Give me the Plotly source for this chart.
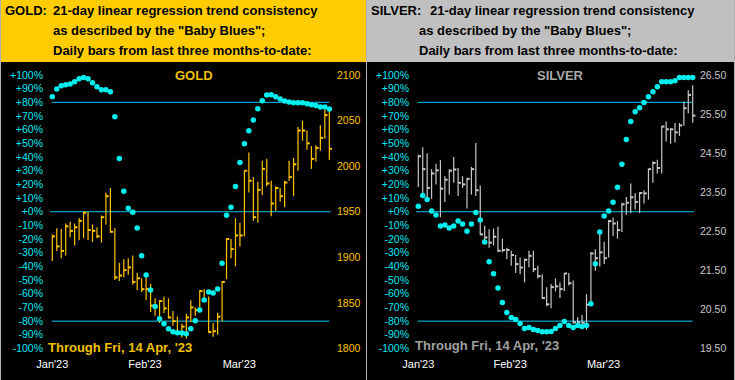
import plotly.graph_objects as go

W, H = 735, 380

# ---------------- data ----------------
bar_index = list(range(1, 64))

gold_high = [1925, 1932, 1931, 1937, 1939, 1937, 1943, 1950, 1950, 1936, 1933, 1946, 1971, 1976, 1932,
             1894, 1898, 1899, 1902, 1883, 1877, 1882, 1871, 1855, 1853, 1857, 1855, 1841, 1835, 1827,
             1838, 1853, 1845, 1864, 1865, 1857, 1828, 1839, 1874, 1921, 1920, 1943, 1938, 1995, 2015,
             1988, 1983, 2006, 2008, 1984, 1978, 1976, 1984, 2006, 2009, 2043, 2050, 2039, 2022, 2023,
             2045, 2062, 2064]
gold_low = [1896, 1907, 1899, 1902, 1922, 1913, 1919, 1921, 1919, 1917, 1921, 1916, 1936, 1927, 1875,
            1874, 1878, 1881, 1870, 1864, 1862, 1853, 1840, 1836, 1828, 1839, 1833, 1825, 1816, 1812,
            1811, 1829, 1836, 1842, 1851, 1817, 1813, 1815, 1830, 1876, 1899, 1890, 1912, 1923, 1971,
            1940, 1938, 1968, 1978, 1945, 1951, 1961, 1955, 1984, 1967, 1995, 2028, 2018, 1997, 2005,
            2017, 2030, 2007]
gold_close = [1923, 1912, 1907, 1934, 1929, 1933, 1940, 1949, 1930, 1929, 1923, 1944, 1967, 1928, 1878,
              1880, 1886, 1889, 1873, 1877, 1865, 1865, 1847, 1846, 1852, 1844, 1834, 1830, 1818, 1824,
              1834, 1845, 1842, 1863, 1853, 1818, 1819, 1835, 1873, 1920, 1909, 1924, 1924, 1995, 1984,
              1944, 1974, 1997, 1981, 1959, 1976, 1967, 1982, 1988, 2002, 2039, 2039, 2025, 2008, 2020,
              2031, 2056, 2019]
gold_blues = [84.1, 89.7, 92.1, 92.8, 93.5, 95.0, 97.2, 98.2, 97.2, 94.3, 91.4, 89.2, 89.2, 87.7, 69.4,
              39.0, 15.0, 2.6, -0.3, -11.9, -32.2, -46.3, -57.2, -69.3, -78.3, -81.9, -85.6, -87.8, -88.5,
              -88.7, -89.2, -85.6, -79.8, -71.8, -64.5, -58.7, -59.4, -56.5, -37.6, -2.5, 3.3, 18.5, 36.0,
              49.7, 59.3, 67.1, 75.3, 81.1, 85.4, 85.5, 84.1, 82.4, 80.9, 80.2, 79.7, 79.7, 79.7, 79.0,
              78.3, 77.6, 76.6, 76.6, 75.1]

silver_high = [24.46, 24.65, 24.50, 24.09, 24.23, 24.32, 23.91, 24.09, 24.40, 24.12, 23.91, 23.87, 24.15,
               24.76, 23.67, 22.64, 22.55, 22.57, 22.62, 22.31, 22.08, 22.00, 21.89, 21.83, 21.80, 22.00,
               22.00, 21.62, 21.40, 21.07, 21.15, 21.29, 21.19, 21.43, 21.43, 21.24, 20.30, 20.36, 20.89,
               21.97, 22.04, 22.47, 22.23, 22.79, 22.85, 22.76, 23.23, 23.38, 23.72, 23.47, 23.50, 23.55,
               24.10, 24.29, 24.33, 25.20, 25.31, 25.14, 25.27, 25.27, 25.82, 26.11, 26.24]
silver_low = [23.63, 23.42, 23.29, 23.33, 23.70, 22.86, 23.25, 23.44, 23.74, 23.40, 23.61, 23.08, 23.44,
              23.40, 22.40, 22.21, 22.08, 22.14, 21.97, 21.96, 21.79, 21.62, 21.43, 21.40, 21.19, 21.57,
              21.45, 21.29, 20.77, 20.58, 20.53, 20.96, 20.79, 20.97, 21.11, 20.13, 20.05, 20.00, 19.98,
              20.68, 21.49, 21.60, 21.66, 21.83, 22.38, 22.31, 22.48, 22.92, 22.97, 23.06, 22.97, 23.21,
              23.31, 23.74, 23.98, 23.98, 24.80, 24.74, 24.77, 24.94, 25.20, 25.52, 25.28]
silver_close = [24.42, 24.09, 23.61, 23.98, 24.06, 23.59, 23.82, 24.05, 24.08, 23.74, 23.70, 23.84, 24.09,
                23.55, 22.42, 22.34, 22.21, 22.36, 22.00, 22.02, 22.02, 21.89, 21.66, 21.57, 21.77, 21.87,
                21.53, 21.35, 20.79, 20.63, 21.07, 21.09, 21.02, 21.42, 21.17, 20.17, 20.17, 20.16, 20.62,
                21.93, 21.81, 21.96, 21.81, 22.76, 22.70, 22.53, 23.19, 23.23, 23.37, 23.25, 23.48, 23.47,
                24.09, 24.25, 24.12, 25.18, 25.11, 25.11, 25.03, 25.21, 25.65, 25.99, 25.46]
silver_blues = [4.1, 11.9, 9.0, 0.5, -2.4, -10.4, -9.7, -11.9, -10.4, -6.8, -9.0, -14.3, -9.0, -0.5, -6.1,
                -22.1, -36.6, -45.3, -55.8, -66.4, -73.7, -77.3, -78.8, -81.7, -85.3, -84.6, -86.1, -86.8,
                -87.8, -87.8, -87.5, -85.3, -83.2, -80.2, -83.2, -84.6, -83.2, -83.9, -83.2, -67.2, -38.1,
                -14.8, -3.2, 0.5, 7.0, 17.9, 34.7, 52.8, 65.9, 73.2, 76.1, 79.8, 84.1, 87.8, 91.4, 95.0,
                95.0, 95.0, 95.8, 98.2, 98.2, 98.2, 98.2]

pct_ticks = list(range(-100, 101, 10))
pct_labels = [f"{v:+d}%" for v in pct_ticks]
gold_ticks = [1800, 1850, 1900, 1950, 2000, 2050, 2100]
gold_labels = [str(v) for v in gold_ticks]
silver_ticks = [19.5, 20.5, 21.5, 22.5, 23.5, 24.5, 25.5, 26.5]
silver_labels = [f"{v:.2f}" for v in silver_ticks]
month_ticks = [1, 21.75, 42.85]
month_labels = ["Jan'23", "Feb'23", "Mar'23"]
ref_levels = [80, 0, -80]

# ---------------- styling ----------------
FONT = "Liberation Sans, Arial, sans-serif"
GOLD = "#FFC400"
GOLD_HDR = "#FFCC00"
SILV = "#C8C8C8"
SILV_HDR = "#C0C0C0"
CYAN_DOT = "#00F0F0"
CYAN_LINE = "#00C4F4"
CYAN_TXT = "#00E8F4"


def px(x):
    return x / W


def py(y):
    return 1 - y / H


def bar_traces(high, low, close, color, xa, ya):
    vx, vy, tx, ty = [], [], [], []
    for i, h, l, c in zip(bar_index, high, low, close):
        vx += [i, i, None]
        vy += [l, h, None]
        tx += [i, i + 0.62, None]
        ty += [c, c, None]
    return [
        go.Scatter(x=vx, y=vy, mode="lines", line=dict(color=color, width=1.2),
                   xaxis=xa, yaxis=ya, hoverinfo="skip", showlegend=False),
        go.Scatter(x=tx, y=ty, mode="lines", line=dict(color=color, width=2),
                   xaxis=xa, yaxis=ya, hoverinfo="skip", showlegend=False),
    ]


fig = go.Figure()
for t in bar_traces(gold_high, gold_low, gold_close, GOLD, "x", "y"):
    fig.add_trace(t)
fig.add_trace(go.Scatter(x=bar_index, y=gold_blues, mode="markers",
                         marker=dict(color=CYAN_DOT, size=5.5, symbol="circle"),
                         xaxis="x", yaxis="y2", showlegend=False))
for t in bar_traces(silver_high, silver_low, silver_close, SILV, "x2", "y3"):
    fig.add_trace(t)
fig.add_trace(go.Scatter(x=bar_index, y=silver_blues, mode="markers",
                         marker=dict(color=CYAN_DOT, size=5.5, symbol="circle"),
                         xaxis="x2", yaxis="y4", showlegend=False))

# axes geometry (pixels)
top_px, bot_px = 62, 356
ydom = [py(bot_px), py(top_px)]
pct_range = [-105.5, 109.5]
gold_range = [1950 + 1.5 * pct_range[0], 1950 + 1.5 * pct_range[1]]
silver_range = [23 + 0.035 * pct_range[0], 23 + 0.035 * pct_range[1]]

axis_common = dict(showgrid=False, zeroline=False, showline=False, ticks="",
                   fixedrange=True, automargin=False)

fig.update_layout(
    template="none",
    width=W, height=H,
    margin=dict(l=0, r=0, t=0, b=0, pad=0),
    paper_bgcolor="black", plot_bgcolor="black",
    showlegend=False,
    xaxis=dict(domain=[px(44), px(336)], range=[-0.858, 64.5], anchor="y",
               tickvals=month_ticks, ticktext=month_labels,
               tickfont=dict(family=FONT, size=11, color="white"), **axis_common),
    yaxis=dict(domain=ydom, range=gold_range, side="right", anchor="x",
               tickvals=gold_ticks, ticktext=gold_labels,
               tickfont=dict(family=FONT, size=10.5, color=GOLD), **axis_common),
    yaxis2=dict(range=pct_range, overlaying="y", side="left", anchor="x",
                tickvals=pct_ticks, ticktext=pct_labels,
                tickfont=dict(family=FONT, size=10.5, color=CYAN_TXT), **axis_common),
    xaxis2=dict(domain=[px(410), px(699)], range=[-0.875, 64.42], anchor="y3",
                tickvals=month_ticks, ticktext=month_labels,
                tickfont=dict(family=FONT, size=11, color="white"), **axis_common),
    yaxis3=dict(domain=ydom, range=silver_range, side="right", anchor="x2",
                tickvals=silver_ticks, ticktext=silver_labels,
                tickfont=dict(family=FONT, size=10.5, color=SILV), **axis_common),
    yaxis4=dict(range=pct_range, overlaying="y3", side="left", anchor="x2",
                tickvals=pct_ticks, ticktext=pct_labels,
                tickfont=dict(family=FONT, size=10.5, color=CYAN_TXT), **axis_common),
)

shapes = [
    dict(type="rect", xref="paper", yref="paper", x0=px(0), x1=px(366), y0=py(62), y1=py(0),
         fillcolor=GOLD_HDR, line=dict(width=0), layer="below"),
    dict(type="rect", xref="paper", yref="paper", x0=px(367), x1=px(735), y0=py(62), y1=py(0),
         fillcolor=SILV_HDR, line=dict(width=0), layer="below"),
    dict(type="line", xref="paper", yref="paper", x0=px(366.5), x1=px(366.5), y0=0, y1=1,
         line=dict(color="#B0B0B0", width=1)),
    dict(type="line", xref="paper", yref="paper", x0=px(0.5), x1=px(0.5), y0=0, y1=1,
         line=dict(color="#B0B0B0", width=1)),
    dict(type="line", xref="paper", yref="paper", x0=px(734.5), x1=px(734.5), y0=0, y1=1,
         line=dict(color="#B0B0B0", width=1)),
]
for xa, ya in (("x", "y2"), ("x2", "y4")):
    for lv in ref_levels:
        x0, x1 = (0.5, 63.3) if lv == 0 else (0.85, 63.0)
        shapes.append(dict(type="line", xref=xa, yref=ya, x0=x0, x1=x1, y0=lv, y1=lv,
                           line=dict(color=CYAN_LINE, width=1), layer="below"))
fig.update_layout(shapes=shapes)


def ann(text, x, y, color, size=13, xanchor="left", bold=True):
    fig.add_annotation(text=text, x=px(x), y=py(y), xref="paper", yref="paper",
                       xanchor=xanchor, yanchor="middle", showarrow=False, borderpad=0,
                       font=dict(family=FONT, size=size, color=color,
                                 weight="bold" if bold else "normal"))


# header texts
ann("GOLD:", 4, 10.5, "black")
ann("21-day linear regression trend consistency", 51.7, 10.5, "black")
ann("as described by the \"Baby Blues\";", 51.7, 30.5, "black")
ann("Daily bars from last three months-to-date:", 51.7, 50.5, "black")
ann("SILVER:", 369.7, 10.5, "black")
ann("21-day linear regression trend consistency", 428.7, 10.5, "black")
ann("as described by the \"Baby Blues\";", 417.7, 30.5, "black")
ann("Daily bars from last three months-to-date:", 417.7, 50.5, "black")

# in-plot labels
ann("GOLD", 193.7, 75.8, "#F0C000", xanchor="center")
ann("SILVER", 560, 76, "#A8A8A8", xanchor="center")
ann("Through Fri, 14 Apr, '23", 46.7, 347.7, "#F0C000")
ann("Through Fri, 14 Apr, '23", 413.7, 345, "#A0A0A0")

fig.write_html("out.html", config={"displayModeBar": False},
               post_script="document.body.style.margin='0';document.body.style.background='black';")
